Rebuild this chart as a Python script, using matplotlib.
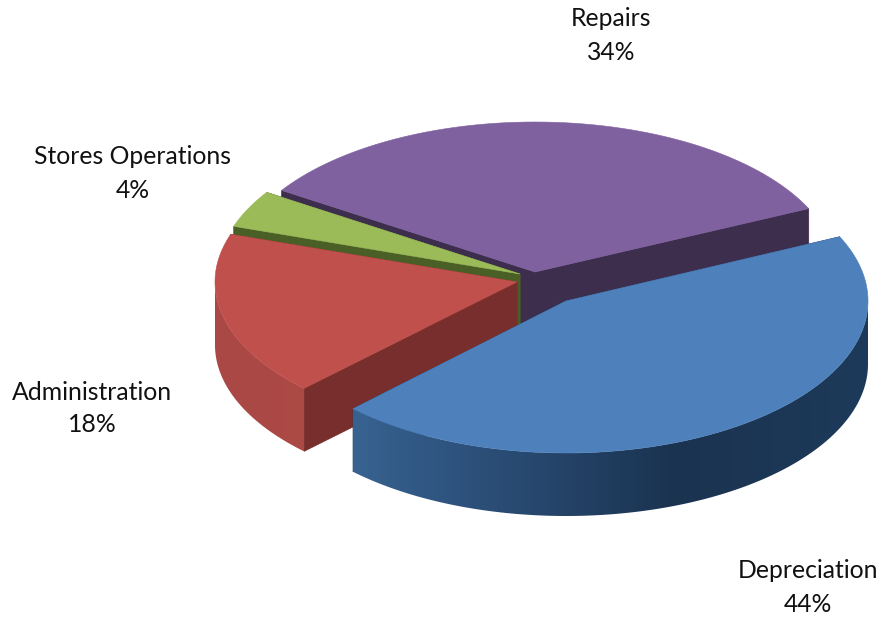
import numpy as np
import matplotlib
matplotlib.use("Agg")
import matplotlib.pyplot as plt
from matplotlib.colors import to_rgb
from matplotlib.patches import Polygon

# values, starting at the right going counter clockwise
# the labels only show the rounded percent
categories = ["Repairs", "Stores Operations", "Administration", "Depreciation"]
shares = [33.9, 4.0, 17.7, 44.4]

# layout in pixels
START_ANGLE = 25.0
RX = 302
RY = 150
DEPTH = 62
apex = {
    "Repairs": (535, 272),
    "Stores Operations": (520, 274),
    "Administration": (517, 282),
    "Depreciation": (566, 301),
}
radii = {
    "Repairs": (RX, RY, DEPTH),
    "Stores Operations": (RX, RY, DEPTH),
    "Administration": (RX, RY, DEPTH + 1),
    "Depreciation": (RX, RY + 2, DEPTH + 1),
}
top_color = {
    "Repairs": "#8061A0",
    "Stores Operations": "#9BBB59",
    "Administration": "#BF504C",
    "Depreciation": "#4E80BC",
}
cut_color = {
    "Repairs": "#3E2E4E",
    "Stores Operations": "#4A5F25",
    "Administration": "#772E2C",
    "Depreciation": "#24405F",
}
# wall gradient: x position (0..1 over the pie width) -> colour
wall_stops = {
    "Repairs": [(0.0, "#3E2E4E"), (1.0, "#3E2E4E")],
    "Stores Operations": [(0.0, "#4A5F25"), (1.0, "#4A5F25")],
    "Administration": [(0.0, "#A94845"), (0.45, "#B24C48"), (1.0, "#7A2E2C")],
    "Depreciation": [(0.0, "#40709F"), (0.3, "#2F5480"), (0.68, "#1A3350"), (1.0, "#1E3A5A")],
}
label_pos = {
    "Repairs": (611, 19),
    "Stores Operations": (133, 157),
    "Administration": (92, 392),
    "Depreciation": (808, 571),
}


def rim(name, a0, a1, n=160):
    cx, cy = apex[name]
    rx, ry, _ = radii[name]
    a = np.radians(np.linspace(a0, a1, n))
    return cx + rx * np.cos(a), cy - ry * np.sin(a)


def draw_cut(ax, name, angle, z):
    cx, cy = apex[name]
    depth = radii[name][2]
    xs, ys = rim(name, angle, angle, 1)
    ax.fill([cx, xs[0], xs[0], cx], [cy, ys[0], ys[0] + depth, cy + depth],
            color=cut_color[name], lw=0.5, zorder=z)


def draw_wall(ax, name, lo, hi, z):
    # gradient picture cut down to the wall shape
    cx = apex[name][0]
    rx, _, depth = radii[name]
    xs, ys = rim(name, lo, hi)
    stops = wall_stops[name]
    x0, x1 = xs.min(), xs.max()
    grid_x = np.linspace(x0, x1, 400)
    t = (grid_x - (cx - rx)) / (2 * rx)
    rgb = np.array([to_rgb(s[1]) for s in stops])
    pos = [s[0] for s in stops]
    row = np.stack([np.interp(t, pos, rgb[:, i]) for i in range(3)], axis=1)
    y0, y1 = ys.min(), ys.max() + depth
    im = ax.imshow(row[np.newaxis, :, :], extent=(x0, x1, y1, y0), aspect="auto",
                   interpolation="bilinear", zorder=z)
    clip = Polygon(np.c_[np.r_[xs, xs[::-1]], np.r_[ys, ys[::-1] + depth]],
                   closed=True, transform=ax.transData)
    im.set_clip_path(clip)


def draw_slice(ax, name, a0, a1, z):
    cx, cy = apex[name]
    # cut faces first, the wall and the top go over them
    draw_cut(ax, name, a0, z)
    draw_cut(ax, name, a1, z)

    # outer wall is only seen on the lower half of the ellipse
    for lo, hi in [(a0, a1), (a0 + 360, a1 + 360), (a0 - 360, a1 - 360)]:
        lo = max(lo, 180)
        hi = min(hi, 360)
        if hi > lo:
            draw_wall(ax, name, lo, hi, z + 0.2)

    xs, ys = rim(name, a0, a1)
    ax.fill(np.r_[cx, xs], np.r_[cy, ys], color=top_color[name], lw=0.4, zorder=z + 0.5)


fig = plt.figure(figsize=(8.82, 6.18), dpi=100)
ax = fig.add_axes([0, 0, 1, 1])

angle = START_ANGLE
for i, (name, share) in enumerate(zip(categories, shares)):
    sweep = share / sum(shares) * 360
    draw_slice(ax, name, angle, angle + sweep, i + 1)
    angle += sweep

ax.set_xlim(0, 882)
ax.set_ylim(618, 0)
ax.axis("off")

for name, share in zip(categories, shares):
    x, y = label_pos[name]
    ax.text(x, y, name, family="Lato", fontsize=17.8, color="#111111", ha="center", va="center", zorder=10)
    ax.text(x, y + 33, f"{share:.0f}%", family="Lato", fontsize=17.8, color="#111111", ha="center", va="center", zorder=10)

fig.savefig("out.png", dpi=100)
